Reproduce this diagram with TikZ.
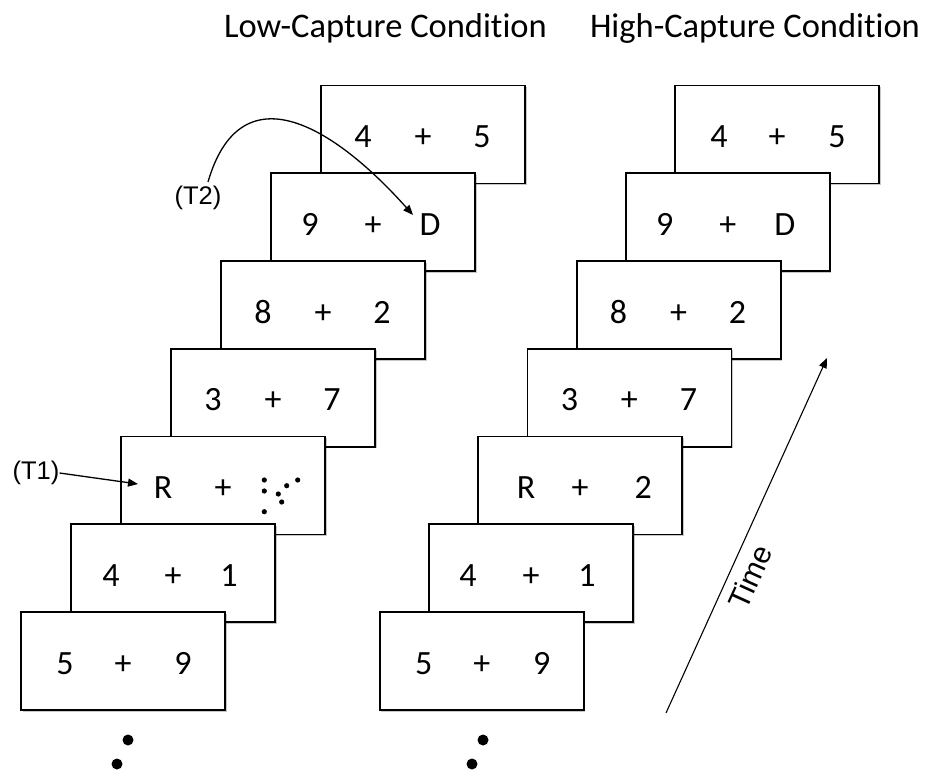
\documentclass[tikz,border=0pt]{standalone}
\usepackage{fontspec}
\setmainfont{Carlito}[Ligatures={NoCommon}, Contextuals={NoAlternate}]
\newfontfamily\arialf{Liberation Sans}
\usetikzlibrary{arrows.meta,shadows}
\newcommand\mycard[7]{%
  \node[card] (#1) at (#2,#3) {};
  \node[sym] (#1a) at ([shift={(#6pt,-62pt)}]#1.north west) {#4};
  \node[sym] (#1p) at ([shift={(102pt,-62pt)}]#1.north west) {+};
  \node[sym] (#1b) at ([shift={(#7pt,-62pt)}]#1.north west) {#5};
}
\begin{document}
\begin{tikzpicture}[x=1pt,y=-1pt,
  card/.style={draw=black, line width=1.8pt, fill=white, minimum width=204pt,
    minimum height=98pt, inner sep=0pt, outer sep=0pt, anchor=north west,
    drop shadow={shadow xshift=1.5pt, shadow yshift=-1.5pt, opacity=0.22, fill=black}},
  sym/.style={font=\fontsize{34}{40}\selectfont, anchor=base, inner sep=0pt},
  lab/.style={font=\arialf\fontsize{25.5}{30}\selectfont, inner sep=0pt},
  ttl/.style={font=\fontsize{34.5}{40}\selectfont, anchor=base, inner sep=0pt},
  pointer/.style={line width=1.3pt, -{Triangle[length=10pt,width=8pt]}},
  dotm/.style={fill=black, draw=none}]
\useasboundingbox (0,0) rectangle (927,772);
\fill[white] (0,0) rectangle (927,772);

% titles
\node[ttl] (lowt) at (385.5,37) {Low-Capture Condi{}tion};
\node[ttl] (hight) at (755,37) {High-Capture Condi{}tion};

% left column (low capture)
\mycard{La}{321}{85.5}{4}{5}{42}{161}
\mycard{Lb}{271}{173.25}{9}{D}{39}{159}
\mycard{Lc}{221}{261}{8}{2}{42}{161}
\mycard{Ld}{171}{348.75}{3}{7}{42}{161}
\node[card] (Le) at (121,436.5) {};
\node[sym] (Lea) at ([shift={(42pt,-62pt)}]Le.north west) {R};
\node[sym] (Lep) at ([shift={(102pt,-62pt)}]Le.north west) {+};
\fill[dotm] (264.3,480) circle (2.6pt);
\fill[dotm] (264.3,491) circle (2.6pt);
\fill[dotm] (264.3,511.7) circle (2.6pt);
\fill[dotm] (278.3,494) circle (2.6pt);
\fill[dotm] (281.7,502) circle (2.6pt);
\fill[dotm] (286.7,485.7) circle (2.6pt);
\fill[dotm] (297.7,480) circle (2.6pt);
\mycard{Lf}{71}{524.25}{4}{1}{40}{158}
\mycard{Lg}{21}{612}{5}{9}{44}{162}

% right column (high capture)
\mycard{Ra}{675}{85.5}{4}{5}{44}{162}
\mycard{Rb}{625.8}{173.25}{9}{D}{39}{159}
\mycard{Rc}{576.6}{261}{8}{2}{42}{161}
\mycard{Rd}{527.4}{348.75}{3}{7}{42}{161}
\mycard{Re}{478.2}{436.5}{R}{2}{48}{165}
\mycard{Rf}{429}{524.25}{4}{1}{39}{158}
\mycard{Rg}{379.8}{612}{5}{9}{44}{162}

% continuation dots
\fill[dotm] (128,740) circle (5.5pt);
\fill[dotm] (117,764) circle (5.5pt);
\fill[dotm] (483,740) circle (5.5pt);
\fill[dotm] (472,764) circle (5.5pt);

% T1 label and arrow
\node[lab] (T1) at (36,473) {(T1)};
\coordinate (t1tip) at (138,484);
\draw[pointer] (T1.east) -- (t1tip);

% T2 label and curved arrow
\node[lab] (T2) at (198,198) {(T2)};
\coordinate (t2start) at ([shift={(10pt,4pt)}]T2.north);
\coordinate (t2tip) at (413,215);
\draw[pointer] (t2start) .. controls (240,72) and (330,122) .. (t2tip);

% time arrow
\coordinate (tstart) at (666,713);
\coordinate (tend) at (827,358);
\draw[pointer, line width=1.1pt] (tstart) -- (tend);
\node[font=\arialf\fontsize{30}{36}\selectfont, inner sep=0pt, rotate=65.6] (time) at (750,577) {Time};
\end{tikzpicture}
\end{document}
